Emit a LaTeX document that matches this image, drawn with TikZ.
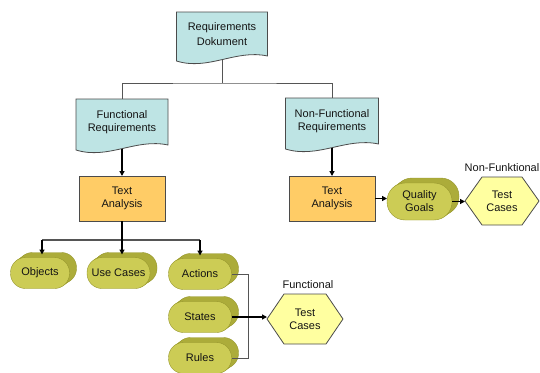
\documentclass[tikz,border=0pt]{standalone}
\usepackage{fontspec}
\setmainfont{Liberation Sans}
\usetikzlibrary{arrows.meta,backgrounds,calc}
\definecolor{docfill}{RGB}{190,228,228}
\definecolor{docline}{RGB}{75,75,75}
\definecolor{tafill}{RGB}{255,204,102}
\definecolor{hexfill}{RGB}{255,255,160}
\definecolor{stfront}{RGB}{204,204,85}
\definecolor{stback}{RGB}{172,172,58}
\definecolor{stline}{RGB}{150,150,45}
\definecolor{busgray}{RGB}{85,85,85}
\definecolor{txt}{RGB}{20,20,20}

\newcommand\docshape[1]{%
  \filldraw[fill=docfill, draw=docline, line width=0.8pt]
    (#1.north west) -- (#1.north east) -- (#1.south east)
    .. controls ($(#1.south west)!0.65!(#1.south east)+(0,-7)$)
    and ($(#1.south west)!0.35!(#1.south east)+(0,15)$)
    .. ($(#1.south west)+(0,5)$) -- cycle;}
\newcommand\stadshape[2]{%
  \foreach \i in {7,6,...,1}{%
    \fill[stback, rounded corners=#2]
      ($(#1.south west)+(\i,-0.714*\i)$) rectangle
      ($(#1.north east)+(\i,-0.714*\i)$);}
  \draw[stline, line width=0.4pt, rounded corners=#2]
      ($(#1.south west)+(7,-5)$) rectangle ($(#1.north east)+(7,-5)$);
  \filldraw[fill=stfront, draw=stline, line width=0.4pt, rounded corners=#2]
      (#1.south west) rectangle (#1.north east);}
\newcommand\hexshape[1]{%
  \filldraw[fill=hexfill, draw=docline, line width=0.8pt]
    (#1.west) -- ([xshift=17pt]#1.north west) -- ([xshift=-17pt]#1.north east)
    -- (#1.east) -- ([xshift=-17pt]#1.south east) -- ([xshift=17pt]#1.south west) -- cycle;}

\tikzset{
  base/.style={inner sep=0pt, outer sep=0pt, align=center,
    font=\fontsize{11}{13}\selectfont, text=txt},
  docnode/.style={base, minimum width=#1, minimum height=46pt},
  tabox/.style={base, fill=tafill, draw=docline, line width=0.9pt,
    minimum width=86pt, minimum height=45pt},
  stadnode/.style={base, minimum width=#1, minimum height=31pt},
  hexnode/.style={base, minimum width=#1, minimum height=48pt},
  arr/.style={-{Triangle[length=5pt,width=5pt]}, line width=1.3pt, black},
  tree/.style={line width=1pt, busgray},
  bracket/.style={line width=0.9pt, busgray},
}

\begin{document}
\begin{tikzpicture}[x=1pt, y=-1pt]
\useasboundingbox (0,0) rectangle (540,372);

% documents
\node[docnode=91pt, minimum height=44pt] (req) at (222,34) {Requirements\\[2pt]Dokument};
\node[docnode=92pt] (fr) at (122,122) {Functional\\Requirements};
\node[docnode=93pt] (nfr) at (332,121) {Non-Functional\\Requirements};

% text analysis
\node[tabox] (ta1) at (122,198.5) {Text\\Analysis};
\node[tabox] (ta2) at (332,198.5) {Text\\Analysis};

% stadiums
\node[stadnode=65pt, minimum height=37pt] (qg) at (419.5,201.5) {Quality\\Goals};
\node[stadnode=59pt] (obj) at (40,273) {Objects};
\node[stadnode=63pt] (uc) at (118.5,273) {Use Cases};
\node[stadnode=63pt] (act) at (200,274) {Actions};
\node[stadnode=63pt] (sta) at (200,317) {States};
\node[stadnode=63pt] (rul) at (200,358) {Rules};

% hexagons
\node[hexnode=74pt] (tcnf) at (502,201) {Test\\Cases};
\node[hexnode=76pt, minimum height=50pt] (tcf) at (305,319) {Test\\Cases};

% labels
\node[base] (lnf) at (502,168) {Non-Funktional};
\node[base] (lf) at (308,285) {Functional};

\begin{scope}[on background layer]
  \docshape{req}
  \docshape{fr}
  \docshape{nfr}
  \stadshape{qg}{18pt}
  \stadshape{obj}{15pt}
  \stadshape{uc}{15pt}
  \stadshape{act}{15pt}
  \stadshape{sta}{15pt}
  \stadshape{rul}{15pt}
  \hexshape{tcnf}
  \hexshape{tcf}
\end{scope}

% top tree
\coordinate (bus1) at (222,83);
\draw[tree] ([yshift=-3.5pt]req.south) -- (bus1);
\draw[tree] (fr.north) |- (bus1) -| (nfr.north);

% doc -> text analysis
\draw[arr] ([yshift=-3.5pt]fr.south) -- (ta1.north);
\draw[arr] ([yshift=-3.5pt]nfr.south) -- (ta2.north);

% non-functional chain
\draw[arr] (ta2.east) -- (ta2.east -| qg.west);
\draw[arr] (qg.east) -- (qg.east -| tcnf.west);

% functional fan-out
\coordinate (bus2) at (122,240);
\coordinate (objtop) at ([xshift=2pt, yshift=3pt]obj.north);
\coordinate (acttop) at ([yshift=3pt]act.north);
\draw[tree, line width=1.2pt] (bus2 -| objtop) -- (bus2 -| acttop);
\draw[arr] (ta1.south) -- ([yshift=3pt]ta1.south |- uc.north);
\draw[arr] (bus2 -| objtop) -- (objtop);
\draw[arr] (bus2 -| acttop) -- (acttop);

% bracket to functional test cases
\draw[bracket] (act.east) -- ++(17,0) |- (rul.east);
\draw[arr] (sta.east) -- (sta.east -| tcf.west);
\end{tikzpicture}
\end{document}
